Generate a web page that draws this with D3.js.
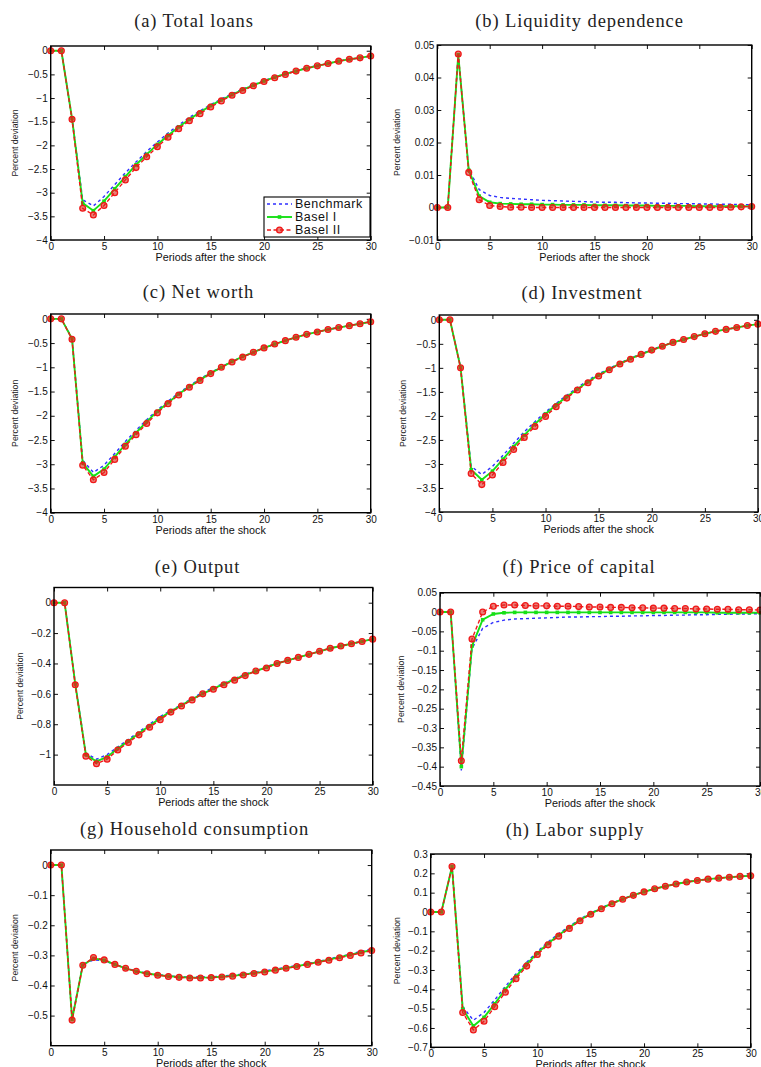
<!DOCTYPE html>
<html>
<head>
<meta charset="utf-8">
<script src="https://cdnjs.cloudflare.com/ajax/libs/d3/7.8.5/d3.min.js"></script>
<style>
  body { margin: 0; background: #fff; }
  svg { display: block; }
</style>
</head>
<body>
<svg></svg>
<script>
    // periods after the shock (x values)
    let periods = [0, 1, 2, 3, 4, 5, 6, 7, 8, 9, 10, 11, 12, 13, 14, 15, 16, 17, 18, 19, 20, 21, 22, 23, 24, 25, 26, 27, 28, 29, 30];
    let seriesNames = ['Benchmark', 'Basel I', 'Basel II'];

    // (a) total loans
    let loansBench = [0, 0, -1.42, -3.15, -3.28, -3.08, -2.83, -2.58, -2.35, -2.13, -1.93, -1.74, -1.57, -1.41, -1.27, -1.14, -1.02, -0.91, -0.81, -0.72, -0.63, -0.56, -0.49, -0.42, -0.37, -0.31, -0.27, -0.22, -0.18, -0.15, -0.11];
    let loansBasel1 = [0, 0, -1.43, -3.22, -3.38, -3.18, -2.92, -2.66, -2.41, -2.19, -1.98, -1.79, -1.61, -1.45, -1.30, -1.16, -1.04, -0.93, -0.82, -0.73, -0.64, -0.56, -0.49, -0.43, -0.37, -0.32, -0.27, -0.22, -0.18, -0.15, -0.11];
    let loansBasel2 = [0, 0, -1.45, -3.33, -3.47, -3.27, -3.00, -2.73, -2.47, -2.24, -2.03, -1.83, -1.65, -1.48, -1.33, -1.19, -1.06, -0.94, -0.84, -0.74, -0.65, -0.57, -0.50, -0.43, -0.37, -0.32, -0.27, -0.22, -0.18, -0.15, -0.11];

    // (b) liquidity dependence
    let liqBench = [0, 0, 0.047, 0.0118, 0.0055, 0.0037, 0.0031, 0.0028, 0.0026, 0.0024, 0.0022, 0.0021, 0.0020, 0.0019, 0.0018, 0.0017, 0.0016, 0.0016, 0.0015, 0.0014, 0.0014, 0.0013, 0.0013, 0.0012, 0.0012, 0.0011, 0.0011, 0.0010, 0.0010, 0.0009, 0.0009];
    let liqBasel1 = [0, 0, 0.047, 0.0115, 0.0035, 0.0016, 0.0012, 0.0011, 0.0010, 0.0010, 0.0009, 0.0009, 0.0008, 0.0008, 0.0008, 0.0007, 0.0007, 0.0007, 0.0006, 0.0006, 0.0006, 0.0005, 0.0005, 0.0005, 0.0005, 0.0004, 0.0004, 0.0004, 0.0004, 0.0004, 0.0004];
    let liqBasel2 = [0, 0, 0.0472, 0.0108, 0.0024, 0.0006, 0.0003, 0.0001, 0.0001, 0, 0, 0, 0, 0, 0, 0, 0, 0, 0, 0, 0, 0, 0, 0, 0, 0, 0, 0, 0.0001, 0.0002, 0.0003];

    // (c) net worth
    let nwBench = [0, 0, -0.40, -2.92, -3.17, -3.02, -2.78, -2.53, -2.30, -2.08, -1.88, -1.70, -1.53, -1.38, -1.24, -1.11, -0.99, -0.88, -0.78, -0.69, -0.60, -0.52, -0.45, -0.38, -0.32, -0.27, -0.22, -0.18, -0.14, -0.10, -0.06];
    let nwBasel1 = [0, 0, -0.41, -2.97, -3.25, -3.10, -2.85, -2.59, -2.35, -2.12, -1.91, -1.73, -1.55, -1.40, -1.26, -1.12, -1.00, -0.88, -0.78, -0.69, -0.60, -0.52, -0.45, -0.38, -0.32, -0.27, -0.22, -0.18, -0.14, -0.10, -0.06];
    let nwBasel2 = [0, 0, -0.42, -3.02, -3.32, -3.17, -2.90, -2.63, -2.39, -2.16, -1.94, -1.75, -1.57, -1.41, -1.27, -1.13, -1.00, -0.89, -0.79, -0.69, -0.60, -0.52, -0.45, -0.38, -0.32, -0.27, -0.22, -0.18, -0.14, -0.10, -0.06];

    // (d) investment
    let invBench = [0, 0, -0.98, -3.05, -3.22, -3.05, -2.82, -2.57, -2.33, -2.12, -1.92, -1.74, -1.57, -1.41, -1.26, -1.13, -1.01, -0.90, -0.80, -0.71, -0.62, -0.54, -0.47, -0.41, -0.35, -0.29, -0.24, -0.20, -0.16, -0.12, -0.09];
    let invBasel1 = [0, 0, -0.99, -3.12, -3.33, -3.15, -2.90, -2.64, -2.40, -2.17, -1.96, -1.77, -1.60, -1.44, -1.29, -1.15, -1.03, -0.91, -0.81, -0.72, -0.63, -0.55, -0.47, -0.41, -0.35, -0.29, -0.24, -0.20, -0.16, -0.12, -0.09];
    let invBasel2 = [0, 0, -1.00, -3.20, -3.43, -3.23, -2.97, -2.70, -2.45, -2.22, -2.01, -1.81, -1.63, -1.46, -1.31, -1.17, -1.04, -0.92, -0.82, -0.72, -0.63, -0.55, -0.47, -0.41, -0.35, -0.29, -0.24, -0.20, -0.16, -0.12, -0.09];

    // (e) output
    let outBench = [0, 0, -0.53, -0.99, -1.03, -1.00, -0.95, -0.90, -0.85, -0.80, -0.75, -0.71, -0.67, -0.63, -0.59, -0.56, -0.53, -0.50, -0.47, -0.45, -0.42, -0.40, -0.38, -0.36, -0.34, -0.32, -0.30, -0.285, -0.27, -0.255, -0.24];
    let outBasel1 = [0, 0, -0.535, -1.00, -1.045, -1.015, -0.96, -0.91, -0.86, -0.81, -0.76, -0.715, -0.675, -0.635, -0.60, -0.565, -0.535, -0.505, -0.475, -0.45, -0.425, -0.40, -0.38, -0.36, -0.34, -0.32, -0.30, -0.285, -0.27, -0.255, -0.24];
    let outBasel2 = [0, 0, -0.54, -1.01, -1.06, -1.03, -0.97, -0.92, -0.87, -0.82, -0.77, -0.72, -0.68, -0.64, -0.60, -0.57, -0.54, -0.51, -0.48, -0.45, -0.43, -0.40, -0.38, -0.36, -0.34, -0.32, -0.30, -0.285, -0.27, -0.255, -0.24];

    // (f) price of capital
    let pkBench = [0, 0, -0.41, -0.095, -0.042, -0.027, -0.021, -0.018, -0.017, -0.016, -0.015, -0.014, -0.013, -0.013, -0.012, -0.012, -0.011, -0.011, -0.010, -0.010, -0.009, -0.009, -0.008, -0.008, -0.007, -0.007, -0.006, -0.006, -0.005, -0.005, -0.004];
    let pkBasel1 = [0, 0, -0.40, -0.088, -0.020, -0.005, -0.002, -0.001, -0.001, -0.001, -0.001, -0.001, -0.001, -0.001, -0.001, -0.001, -0.001, -0.001, -0.001, -0.001, -0.001, -0.001, -0.001, -0.001, -0.001, -0.001, -0.002, -0.002, -0.002, -0.002, -0.002];
    let pkBasel2 = [0, 0, -0.385, -0.070, 0.000, 0.015, 0.018, 0.018, 0.017, 0.016, 0.016, 0.015, 0.015, 0.014, 0.013, 0.013, 0.012, 0.012, 0.011, 0.011, 0.010, 0.010, 0.009, 0.009, 0.008, 0.008, 0.007, 0.007, 0.006, 0.006, 0.005];

    // (g) household consumption
    let conBench = [0, 0, -0.51, -0.33, -0.315, -0.318, -0.33, -0.342, -0.352, -0.359, -0.364, -0.368, -0.371, -0.372, -0.372, -0.371, -0.369, -0.366, -0.362, -0.357, -0.352, -0.346, -0.34, -0.334, -0.327, -0.32, -0.312, -0.304, -0.296, -0.287, -0.278];
    let conBasel1 = [0, 0, -0.513, -0.332, -0.31, -0.316, -0.33, -0.343, -0.353, -0.36, -0.365, -0.369, -0.372, -0.374, -0.374, -0.373, -0.371, -0.368, -0.364, -0.359, -0.354, -0.348, -0.342, -0.336, -0.329, -0.322, -0.314, -0.306, -0.298, -0.29, -0.282];
    let conBasel2 = [0, 0, -0.515, -0.333, -0.307, -0.315, -0.33, -0.343, -0.353, -0.361, -0.366, -0.37, -0.373, -0.375, -0.375, -0.374, -0.372, -0.369, -0.365, -0.36, -0.355, -0.349, -0.343, -0.337, -0.33, -0.323, -0.316, -0.308, -0.3, -0.292, -0.284];

    // (h) labor supply
    let labBench = [0, 0, 0.235, -0.49, -0.56, -0.52, -0.455, -0.385, -0.32, -0.26, -0.205, -0.155, -0.112, -0.074, -0.037, -0.006, 0.021, 0.046, 0.068, 0.088, 0.105, 0.12, 0.133, 0.145, 0.155, 0.163, 0.17, 0.175, 0.18, 0.184, 0.187];
    let labBasel1 = [0, 0, 0.235, -0.50, -0.59, -0.545, -0.475, -0.40, -0.333, -0.27, -0.213, -0.163, -0.119, -0.08, -0.041, -0.009, 0.019, 0.045, 0.067, 0.087, 0.104, 0.12, 0.133, 0.145, 0.155, 0.163, 0.17, 0.175, 0.18, 0.184, 0.187];
    let labBasel2 = [0, 0, 0.235, -0.52, -0.61, -0.565, -0.49, -0.415, -0.345, -0.28, -0.22, -0.17, -0.125, -0.085, -0.045, -0.012, 0.017, 0.043, 0.066, 0.086, 0.104, 0.12, 0.133, 0.145, 0.155, 0.163, 0.17, 0.175, 0.18, 0.184, 0.187];

    // tick labels
    let xTicks = [0, 5, 10, 15, 20, 25, 30];
    let ticksLevel = [0, -0.5, -1, -1.5, -2, -2.5, -3, -3.5, -4];
    let ticksLiq = [0.05, 0.04, 0.03, 0.02, 0.01, 0, -0.01];
    let ticksOut = [0, -0.2, -0.4, -0.6, -0.8, -1];
    let ticksPk = [0.05, 0, -0.05, -0.1, -0.15, -0.2, -0.25, -0.3, -0.35, -0.4, -0.45];
    let ticksCon = [0, -0.1, -0.2, -0.3, -0.4, -0.5];
    let ticksLab = [0.3, 0.2, 0.1, 0, -0.1, -0.2, -0.3, -0.4, -0.5, -0.6, -0.7];

    let titles = ['(a) Total loans', '(b) Liquidity dependence', '(c) Net worth', '(d) Investment',
        '(e) Output', '(f) Price of capital', '(g) Household consumption', '(h) Labor supply'];

    let width = 761;
    let height = 1067;

    // layout of each panel: box left/right/top/bottom, title x/y, y label x
    let layout = [
        {l: 50.7, r: 370.7, t: 46, b: 240, tx: 194, ty: 27, lx: 15},
        {l: 437.3, r: 751.7, t: 45, b: 240, tx: 579.5, ty: 27, lx: 397},
        {l: 50.7, r: 370.7, t: 314, b: 512.7, tx: 198.5, ty: 298, lx: 15},
        {l: 439.3, r: 758, t: 315, b: 512, tx: 582, ty: 299, lx: 403},
        {l: 54, r: 372.7, t: 587.5, b: 785, tx: 197.5, ty: 573, lx: 20},
        {l: 440, r: 760, t: 592.7, b: 786, tx: 579, ty: 573, lx: 401},
        {l: 50.7, r: 371.7, t: 850, b: 1045.7, tx: 194.5, ty: 835, lx: 15},
        {l: 430.7, r: 750.7, t: 854, b: 1047.3, tx: 575, ty: 836, lx: 397}
    ];

    let panels = [
        {series: [loansBench, loansBasel1, loansBasel2], ticks: ticksLevel, domain: [-4, 0.1]},
        {series: [liqBench, liqBasel1, liqBasel2], ticks: ticksLiq, domain: [-0.01, 0.05]},
        {series: [nwBench, nwBasel1, nwBasel2], ticks: ticksLevel, domain: [-4, 0.1]},
        {series: [invBench, invBasel1, invBasel2], ticks: ticksLevel, domain: [-4, 0.1]},
        {series: [outBench, outBasel1, outBasel2], ticks: ticksOut, domain: [-1.2, 0.1]},
        {series: [pkBench, pkBasel1, pkBasel2], ticks: ticksPk, domain: [-0.45, 0.05]},
        {series: [conBench, conBasel1, conBasel2], ticks: ticksCon, domain: [-0.6, 0.05]},
        {series: [labBench, labBasel1, labBasel2], ticks: ticksLab, domain: [-0.7, 0.3]}
    ];

    let colors = ['#2f2fff', '#16e016', '#f01818'];
    let dashes = ['3,3', null, '4,2.5'];
    let lineWidths = [1.4, 1.9, 1.4];

    let sans = "'Liberation Sans', Arial, sans-serif";
    let serif = "'Liberation Serif', 'Times New Roman', serif";

    let svg = d3.select('svg');

    let fmt = (d) => d < 0 ? '\u2212' + (-d) : String(d);

    let drawCanvas = () => {
        svg.attr('width', width);
        svg.attr('height', height);
        svg.append('rect').attr('width', width).attr('height', height).attr('fill', '#fff');
    }

    let drawMarkers = (g, k, values, xScale, yScale) => {
        if (k === 1) {
            g.selectAll('rect.m1')
            .data(values)
            .enter()
            .append('rect')
            .attr('class', 'm1')
            .attr('x', (d, i) => xScale(periods[i]) - 1.8)
            .attr('y', (d) => yScale(d) - 1.8)
            .attr('width', 3.6)
            .attr('height', 3.6)
            .attr('fill', colors[1]);
        }
        if (k === 2) {
            g.selectAll('circle.m2')
            .data(values)
            .enter()
            .append('circle')
            .attr('class', 'm2')
            .attr('cx', (d, i) => xScale(periods[i]))
            .attr('cy', (d) => yScale(d))
            .attr('r', 2.9)
            .attr('fill', 'rgba(220,40,30,0.6)')
            .attr('stroke', colors[2])
            .attr('stroke-width', 1.3);
        }
    }

    let drawPanel = (p, idx) => {
        let box = layout[idx];
        let xScale = d3.scaleLinear().domain([0, 30]).range([box.l, box.r]);
        let yScale = d3.scaleLinear().domain(p.domain).range([box.b, box.t]);
        let g = svg.append('g');

        // axes with inward ticks on all four sides
        let styleAxis = (a) => {
            a.select('.domain').remove();
            a.attr('font-family', sans).attr('font-size', 10);
            a.selectAll('text').attr('fill', '#111');
            a.selectAll('line').attr('stroke', '#111');
        }
        g.append('g')
        .attr('transform', 'translate(0,' + box.b + ')')
        .call(d3.axisBottom(xScale).tickValues(xTicks).tickSize(-4).tickPadding(3).tickFormat(fmt))
        .call(styleAxis);
        g.append('g')
        .attr('transform', 'translate(0,' + box.t + ')')
        .call(d3.axisTop(xScale).tickValues(xTicks).tickSize(-4).tickFormat(''))
        .call(styleAxis);
        g.append('g')
        .attr('transform', 'translate(' + box.l + ',0)')
        .call(d3.axisLeft(yScale).tickValues(p.ticks).tickSize(-4).tickPadding(3).tickFormat(fmt))
        .call(styleAxis);
        g.append('g')
        .attr('transform', 'translate(' + box.r + ',0)')
        .call(d3.axisRight(yScale).tickValues(p.ticks).tickSize(-4).tickFormat(''))
        .call(styleAxis);

        let line = d3.line()
        .x((d, i) => xScale(periods[i]))
        .y((d) => yScale(d));

        p.series.forEach((values, k) => {
            g.append('path')
            .datum(values)
            .attr('d', line)
            .attr('fill', 'none')
            .attr('stroke', colors[k])
            .attr('stroke-width', lineWidths[k])
            .attr('stroke-dasharray', dashes[k]);
            drawMarkers(g, k, values, xScale, yScale);
        });

        // frame
        g.append('rect')
        .attr('x', box.l)
        .attr('y', box.t)
        .attr('width', box.r - box.l)
        .attr('height', box.b - box.t)
        .attr('fill', 'none')
        .attr('stroke', '#000')
        .attr('stroke-width', 1.4);

        g.append('text')
        .attr('x', box.tx)
        .attr('y', box.ty)
        .attr('text-anchor', 'middle')
        .attr('font-family', serif)
        .attr('font-size', 18.5)
        .attr('letter-spacing', 0.9)
        .attr('fill', '#222')
        .text(titles[idx]);

        g.append('text')
        .attr('x', (box.l + box.r) / 2)
        .attr('y', box.b + 21)
        .attr('text-anchor', 'middle')
        .attr('font-family', sans)
        .attr('font-size', 10.8)
        .attr('fill', '#111')
        .text('Periods after the shock');

        g.append('text')
        .attr('transform', 'translate(' + box.lx + ',' + ((box.t + box.b) / 2) + ') rotate(-90)')
        .attr('text-anchor', 'middle')
        .attr('dominant-baseline', 'central')
        .attr('font-family', sans)
        .attr('font-size', 8.7)
        .attr('fill', '#222')
        .text('Percent deviation');
    }

    let drawLegend = () => {
        let lg = svg.append('g');
        lg.append('rect')
        .attr('x', 264)
        .attr('y', 197)
        .attr('width', 106)
        .attr('height', 40)
        .attr('fill', '#fff')
        .attr('stroke', '#000')
        .attr('stroke-width', 1.1);

        seriesNames.forEach((name, k) => {
            let y = 204 + k * 13;
            lg.append('line')
            .attr('x1', 267).attr('x2', 292)
            .attr('y1', y).attr('y2', y)
            .attr('stroke', colors[k])
            .attr('stroke-width', lineWidths[k])
            .attr('stroke-dasharray', dashes[k]);
            if (k === 1) {
                lg.append('rect').attr('x', 277.7).attr('y', y - 1.8).attr('width', 3.6).attr('height', 3.6).attr('fill', colors[1]);
            }
            if (k === 2) {
                lg.append('circle').attr('cx', 279.5).attr('cy', y).attr('r', 2.9)
                .attr('fill', 'rgba(220,40,30,0.6)').attr('stroke', colors[2]).attr('stroke-width', 1.3);
            }
            lg.append('text')
            .attr('x', 295)
            .attr('y', y)
            .attr('dominant-baseline', 'central')
            .attr('font-family', sans)
            .attr('font-size', 12.5)
            .attr('letter-spacing', 0.5)
            .attr('fill', '#111')
            .text(name);
        });
    }

    drawCanvas();
    panels.forEach(drawPanel);
    drawLegend();
</script>
</body>
</html>
